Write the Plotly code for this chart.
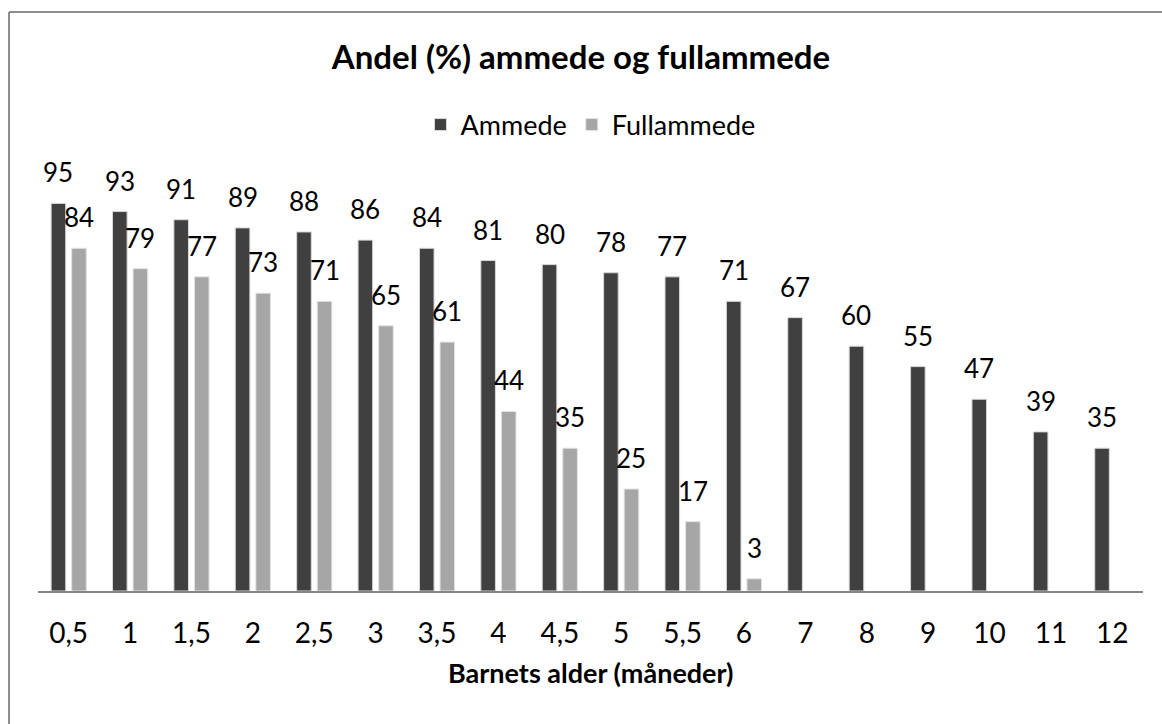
import plotly.graph_objects as go

categories = ["0,5", "1", "1,5", "2", "2,5", "3", "3,5", "4", "4,5", "5", "5,5", "6",
              "7", "8", "9", "10", "11", "12"]
ammede = [95, 93, 91, 89, 88, 86, 84, 81, 80, 78, 77, 71, 67, 60, 55, 47, 39, 35]
fullammede = [84, 79, 77, 73, 71, 65, 61, 44, 35, 25, 17, 3,
              None, None, None, None, None, None]

title_text = "Andel (%) ammede og fullammede"
xaxis_title = "Barnets alder (måneder)"

FONT = "Lato"
DARK = "#404040"
LIGHT = "#a6a6a6"

W, H = 1162, 724
ML, MR, MT, MB = 38, 19, 183, 133
PW, PH = W - ML - MR, H - MT - MB

fig = go.Figure()
fig.add_trace(go.Bar(x=categories, y=ammede, name="Ammede",
                     marker=dict(color=DARK, line=dict(width=1, color="#d9d9d9"))))
fig.add_trace(go.Bar(x=categories, y=fullammede, name="Fullammede",
                     marker=dict(color=LIGHT, line=dict(width=1, color="#e3e3e3"))))

cat_w = PW / len(categories)
bargap = 0.33
slot = cat_w * (1 - bargap) / 2
annotations = []
for series, sign in ((ammede, -1), (fullammede, 1)):
    for i, v in enumerate(series):
        if v is None:
            continue
        annotations.append(dict(x=i, y=v, xref="x", yref="y", text=str(v),
                                showarrow=False, yanchor="bottom",
                                xshift=sign * slot / 2, yshift=13,
                                font=dict(family=FONT, size=26, color="#000000")))

annotations.append(dict(x=0.5, y=-(672 - (H - MB)) / PH, xref="paper", yref="paper",
                        yanchor="middle", xanchor="center", showarrow=False,
                        text="<b>" + xaxis_title + "</b>",
                        font=dict(family=FONT, size=27, color="#000000")))

def px_x(x):
    return (x - ML) / PW

def px_y(y):
    return (H - MB - y) / PH

fig.update_layout(
    width=W, height=H,
    margin=dict(l=ML, r=MR, t=MT, b=MB),
    paper_bgcolor="white", plot_bgcolor="white",
    barmode="group", bargap=bargap, bargroupgap=0.29,
    title=dict(text="<b>" + title_text + "</b>", x=0.5, xanchor="center",
               y=1 - 57 / H, yanchor="middle",
               font=dict(family=FONT, size=33, color="#000000")),
    legend=dict(orientation="h", x=0.5, xanchor="center", y=1 - 125 / H,
                yanchor="middle", yref="container",
                font=dict(family=FONT, size=27, color="#000000"),
                itemwidth=30, tracegroupgap=0),
    xaxis=dict(type="category", showline=True, linecolor="#868686", linewidth=2,
               showgrid=False, ticks="", ticklen=0, ticklabelstandoff=16,
               tickfont=dict(family=FONT, size=28, color="#000000")),
    yaxis=dict(range=[0, 100], visible=False, showgrid=False, zeroline=False),
    annotations=annotations,
    shapes=[
        dict(type="line", xref="paper", yref="paper", x0=px_x(9), x1=px_x(W + 5),
             y0=px_y(12), y1=px_y(12), line=dict(color="#8c8c8c", width=2)),
        dict(type="line", xref="paper", yref="paper", x0=px_x(9), x1=px_x(9),
             y0=px_y(12), y1=px_y(H + 5), line=dict(color="#8c8c8c", width=2)),
    ],
)
fig.update_traces(cliponaxis=False, hoverinfo="skip")

fig.write_html("out.html", config={"displayModeBar": False},
               post_script="document.body.style.margin='0';")
